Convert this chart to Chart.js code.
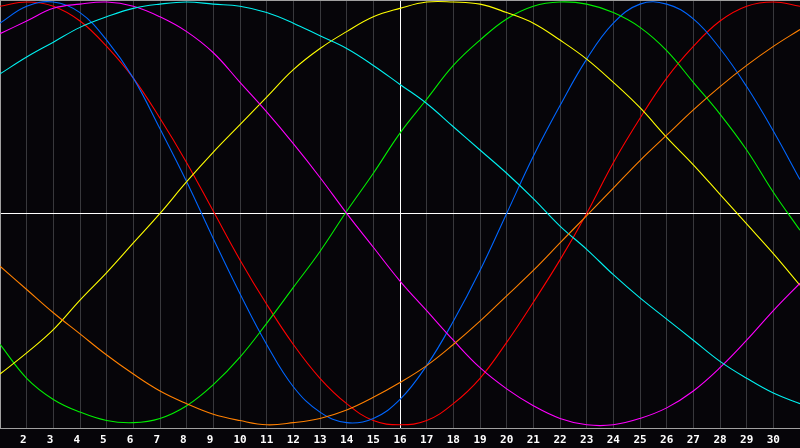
<!DOCTYPE html>
<html><head><meta charset="utf-8">
<script src="https://cdn.jsdelivr.net/npm/chart.js@4/dist/chart.umd.min.js"></script>
<style>html,body{margin:0;padding:0;background:#060509;overflow:hidden}canvas{display:block}</style>
</head><body>
<canvas id="c" width="800" height="448"></canvas>
<script>
// Days of the month shown on the x axis
const days = [1,2,3,4,5,6,7,8,9,10,11,12,13,14,15,16,17,18,19,20,21,22,23,24,25,26,27,28,29,30,31];
const tickDays = [2,3,4,5,6,7,8,9,10,11,12,13,14,15,16,17,18,19,20,21,22,23,24,25,26,27,28,29,30];
const todayDay = 16;

// Series values (range -1..1) read per day
const redValues = [0.98,1.00,0.98,0.91,0.79,0.64,0.45,0.24,0.01,-0.22,-0.43,-0.62,-0.78,-0.90,-0.98,-1.00,-0.98,-0.90,-0.78,-0.61,-0.42,-0.22,0.00,0.24,0.45,0.64,0.79,0.91,0.98,1.00,0.98];
const blueValues = [0.90,0.98,1.00,0.95,0.82,0.64,0.40,0.15,-0.12,-0.38,-0.62,-0.82,-0.94,-0.99,-0.97,-0.88,-0.72,-0.51,-0.27,0.00,0.27,0.51,0.73,0.90,0.99,0.99,0.92,0.78,0.60,0.39,0.16];
const greenValues = [-0.62,-0.78,-0.88,-0.94,-0.98,-0.99,-0.97,-0.91,-0.81,-0.68,-0.52,-0.35,-0.18,0.01,0.19,0.38,0.54,0.70,0.82,0.92,0.98,1.00,0.99,0.95,0.88,0.77,0.62,0.47,0.30,0.10,-0.08];
const yellowValues = [-0.76,-0.66,-0.55,-0.41,-0.28,-0.14,0.00,0.15,0.29,0.42,0.55,0.68,0.78,0.86,0.93,0.97,1.00,1.00,0.99,0.95,0.90,0.82,0.73,0.62,0.50,0.36,0.23,0.09,-0.05,-0.19,-0.34];
const cyanValues = [0.66,0.74,0.81,0.88,0.93,0.97,0.99,1.00,0.99,0.98,0.95,0.90,0.84,0.78,0.70,0.61,0.52,0.41,0.30,0.19,0.07,-0.06,-0.17,-0.29,-0.40,-0.50,-0.60,-0.70,-0.78,-0.85,-0.90];
const magentaValues = [0.85,0.91,0.97,0.99,1.00,0.98,0.93,0.86,0.76,0.62,0.48,0.33,0.17,0.00,-0.16,-0.32,-0.46,-0.60,-0.73,-0.83,-0.91,-0.97,-1.00,-1.00,-0.97,-0.92,-0.84,-0.73,-0.60,-0.46,-0.33];
const orangeValues = [-0.25,-0.36,-0.47,-0.57,-0.67,-0.76,-0.84,-0.90,-0.95,-0.98,-1.00,-0.99,-0.97,-0.93,-0.87,-0.80,-0.72,-0.62,-0.51,-0.39,-0.27,-0.14,-0.01,0.12,0.25,0.37,0.49,0.60,0.70,0.79,0.87];

const Y_MIN = -1.019, Y_MAX = 1.0095;
const GRID = '#38383c', FRAME = '#a0a0a0';

function series(vals, color) {
  return {
    data: days.map((d, i) => ({x: d, y: vals[i]})),
    borderColor: color, borderWidth: 1.1, pointRadius: 0,
    tension: 0.4, fill: false
  };
}

const bgPlugin = {
  id: 'bg',
  beforeDraw(chart) {
    const c = chart.ctx;
    c.save(); c.fillStyle = '#060509'; c.fillRect(0, 0, chart.width, chart.height); c.restore();
  }
};

new Chart(document.getElementById('c').getContext('2d'), {
  type: 'line',
  data: { datasets: [
    series(orangeValues, '#ff8000'),
    series(cyanValues, '#00f0f0'),
    series(magentaValues, '#ff00ff'),
    series(yellowValues, '#ffff00'),
    series(greenValues, '#00ee00'),
    series(blueValues, '#0066ff'),
    series(redValues, '#ff0000')
  ]},
  options: {
    responsive: false, devicePixelRatio: 1, animation: false,
    layout: { padding: { left: 0, right: 0, top: 0, bottom: -4 } },
    plugins: { legend: { display: false }, tooltip: { enabled: false } },
    scales: {
      x: {
        type: 'linear', min: 1, max: 31,
        afterBuildTicks: s => { s.ticks = tickDays.map(v => ({ value: v })); },
        ticks: {
          color: '#ffffff', padding: 5, maxRotation: 0, autoSkip: false,
          font: { family: 'DejaVu Sans Mono', size: 11, weight: 'bold' },
          callback: v => String(v).padEnd(2, ' ')
        },
        grid: { color: c => (c.tick && c.tick.value === todayDay) ? '#ffffff' : GRID, drawTicks: false, lineWidth: 1 },
        border: { display: true, color: FRAME }
      },
      y: {
        min: Y_MIN, max: Y_MAX,
        afterBuildTicks: s => { s.ticks = [{ value: 0 }, { value: Y_MAX }]; },
        ticks: { display: false },
        grid: { color: c => (c.tick && c.tick.value === 0) ? '#ffffff' : FRAME, drawTicks: false, lineWidth: 1 },
        border: { display: true, color: FRAME }
      }
    }
  },
  plugins: [bgPlugin]
});
</script>
</body></html>
